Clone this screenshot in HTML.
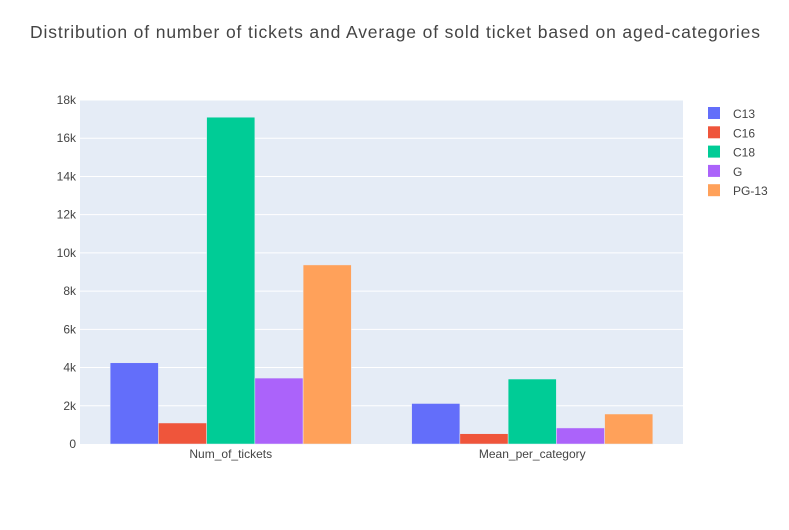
<!DOCTYPE html>
<html><head><meta charset="utf-8"><style>
body{margin:0;background:#fff;font-family:"Liberation Sans",Arial,sans-serif}
</style></head><body>
<svg id="chart" width="789" height="525" xmlns="http://www.w3.org/2000/svg" font-family="Liberation Sans, Arial, sans-serif">
<rect width="789" height="525" fill="#fff"/>
<text x="395" y="38" text-anchor="middle" font-size="17.5" fill="#444" textLength="730" lengthAdjust="spacing">Distribution of number of tickets and Average of sold ticket based on aged-categories</text>
<rect x="80" y="100" width="603" height="344" fill="#e5ecf6"/>
<g id="grid"></g><g id="bars"></g><g id="axes"></g><g id="legend"></g>
</svg>
<script>
const categories=["Num_of_tickets","Mean_per_category"];
const seriesNames=["C13","C16","C18","G","PG-13"];
const colors=["#636efa","#ef553b","#00cc96","#ab63fa","#ffa15a"];
const C13=[4250,2120];
const C16=[1100,540];
const C18=[17100,3400];
const G=[3450,840];
const PG13=[9370,1570];
const seriesValues=[C13,C16,C18,G,PG13];
const yTicks=[0,2000,4000,6000,8000,10000,12000,14000,16000,18000];
const yTickLabels=["0","2k","4k","6k","8k","10k","12k","14k","16k","18k"];
const NS="http://www.w3.org/2000/svg";
const X0=80,W=603,Y0=444,H=344,YMAX=18000;
const y=v=>Y0-v/YMAX*H;
const bandW=W/categories.length, groupW=bandW*0.8, barW=groupW/seriesNames.length;
const xBand=i=>X0+i*bandW;
function mk(tag,attrs,parent){const e=document.createElementNS(NS,tag);for(const k in attrs)e.setAttribute(k,attrs[k]);document.getElementById(parent).appendChild(e);return e;}
yTicks.forEach((t,i)=>{
  if(t>0){const l=mk('line',{x1:X0,x2:X0+W,y1:y(t),y2:y(t),stroke:'#fff','stroke-width':1},'grid');
  
  }
  const tx=mk('text',{x:X0-4,y:y(t)+4,'text-anchor':'end','font-size':12,fill:'#444'},'axes');
  tx.textContent=yTickLabels[i];
  
  
});
categories.forEach((c,i)=>{
  const tx=mk('text',{x:xBand(i)+bandW/2,y:Y0+14,'text-anchor':'middle','font-size':12,fill:'#444'},'axes');
  tx.textContent=c;
  
  
  seriesValues.forEach((vals,s)=>{
    const x=xBand(i)+(bandW-groupW)/2+s*barW;
    const r=mk('rect',{x:x,y:y(vals[i]),width:barW,height:Y0-y(vals[i]),fill:colors[s],stroke:'#e5ecf6','stroke-width':0.5},'bars');
    
    
  });
});
seriesNames.forEach((n,s)=>{
  const yy=113+s*19.3;
  const r=mk('rect',{x:708,y:yy-6,width:12,height:12,fill:colors[s]},'legend');
  
  
  const t=mk('text',{x:733,y:yy+5,'font-size':12,fill:'#444'},'legend');
  t.textContent=n;
  
  
});
</script>
</body></html>
